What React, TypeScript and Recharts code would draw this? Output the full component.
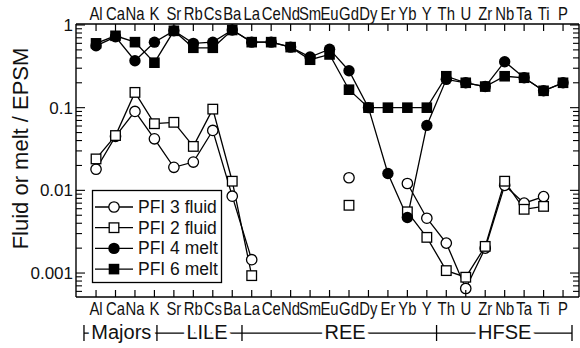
import React from "react";
import { LineChart, Line, XAxis, YAxis, ReferenceLine } from "recharts";

const FONT = "'Liberation Sans', Arial, Helvetica, sans-serif";

const categories = ["Al", "Ca", "Na", "K", "Sr", "Rb", "Cs", "Ba", "La", "Ce", "Nd", "Sm", "Eu", "Gd", "Dy", "Er", "Yb", "Y", "Th", "U", "Zr", "Nb", "Ta", "Ti", "P"];

const pfi3Fluid = [0.018, 0.045, 0.09, 0.042, 0.019, 0.022, 0.053, 0.0085, 0.00145, null, null, null, null, 0.0142, null, null, 0.0121, 0.0046, 0.0023, 0.00065, 0.002, 0.0115, 0.007, 0.0084, null];
const pfi2Fluid = [0.024, 0.046, 0.153, 0.064, 0.0665, 0.034, 0.096, 0.0129, 0.00093, null, null, null, null, 0.0066, null, null, 0.0055, 0.0027, 0.00107, 0.00089, 0.0021, 0.0129, 0.0059, 0.0064, null];
const pfi4Melt = [0.56, 0.72, 0.37, 0.62, 0.85, 0.6, 0.62, 0.87, 0.62, 0.62, 0.54, 0.41, 0.51, 0.28, 0.1, 0.016, 0.0047, 0.061, 0.22, 0.2, 0.18, 0.36, 0.23, 0.16, 0.2];
const pfi6Melt = [0.6, 0.74, 0.62, 0.35, 0.85, 0.53, 0.53, 0.87, 0.62, 0.62, 0.54, 0.38, 0.44, 0.165, 0.1, 0.1, 0.1, 0.1, 0.24, 0.2, 0.18, 0.24, 0.23, 0.16, 0.2];

const yMajorTicks = [0.001, 0.01, 0.1, 1];
const yMinorTicks = [
  0.0006, 0.0007, 0.0008, 0.0009,
  0.002, 0.003, 0.004, 0.005, 0.006, 0.007, 0.008, 0.009,
  0.02, 0.03, 0.04, 0.05, 0.06, 0.07, 0.08, 0.09,
  0.2, 0.3, 0.4, 0.5, 0.6, 0.7, 0.8, 0.9,
];

// element groups under the axis (positions in category index units)
const groupNames = ["Majors", "LILE", "REE", "HFSE"];
const groupCenters = [1.3, 5.7, 12.8, 21];
const groupEdges = [-0.62, 3.13, 7.5, 17.5, 24.46];
const BRACKET_Y = 0.000188; // below the y domain, where the bracket line sits

const seriesKeys = ["pfi3Fluid", "pfi2Fluid", "pfi4Melt", "pfi6Melt"];
const seriesNames = ["PFI 3 fluid", "PFI 2 fluid", "PFI 4 melt", "PFI 6 melt"];
const seriesMarkers = ["openCircle", "openSquare", "filledCircle", "filledSquare"];

const data = categories.map((name, i) => ({
  i,
  name,
  pfi3Fluid: pfi3Fluid[i],
  pfi2Fluid: pfi2Fluid[i],
  pfi4Melt: pfi4Melt[i],
  pfi6Melt: pfi6Melt[i],
}));

const X_DOMAIN: [number, number] = [-1.03, 24.82];
const Y_DOMAIN: [number, number] = [0.000513, 1.028];

function Marker({ kind, cx, cy }: { kind: string; cx: number; cy: number }) {
  switch (kind) {
    case "openCircle":
      return <circle cx={cx} cy={cy} r={5.2} fill="#fff" stroke="#000" strokeWidth={1.3} />;
    case "openSquare":
      return <rect x={cx - 4.8} y={cy - 4.8} width={9.6} height={9.6} fill="#fff" stroke="#000" strokeWidth={1.3} />;
    case "filledCircle":
      return <circle cx={cx} cy={cy} r={5.7} fill="#000" />;
    default:
      return <rect x={cx - 5.3} y={cy - 5.3} width={10.6} height={10.6} fill="#000" />;
  }
}

const makeDot = (kind: string) => (props: any) => {
  const { cx, cy, value, index } = props;
  if (value == null || cx == null || cy == null) return <g key={`e-${kind}-${index}`} />;
  return (
    <g key={`d-${kind}-${index}`}>
      <Marker kind={kind} cx={cx} cy={cy} />
    </g>
  );
};

function CatTick(props: any) {
  const { x, y, payload, side } = props;
  const label = categories[payload.value];
  const dir = side === "top" ? 1 : -1;
  const ty = side === "top" ? y - 4 : y + 18;
  return (
    <g>
      <line x1={x} y1={y} x2={x} y2={y + dir * 7} stroke="#000" strokeWidth={1.2} />
      <text
        transform={`translate(${x},${ty}) scale(0.85,1)`}
        textAnchor="middle"
        fontSize={17.5}
        fontFamily={FONT}
        fill="#111"
      >
        {label}
      </text>
    </g>
  );
}

function LogTick(props: any) {
  const { x, y, payload, side } = props;
  const v = payload.value;
  const major = yMajorTicks.includes(v);
  const len = major ? 9 : 6;
  const dir = side === "left" ? 1 : -1;
  return (
    <g>
      <line x1={x} y1={y} x2={x + dir * len} y2={y} stroke="#000" strokeWidth={1.1} />
      {major && side === "left" && (
        <text x={x - 3} y={y} dy="0.36em" textAnchor="end" fontSize={17} fontFamily={FONT} fill="#111">
          {String(v)}
        </text>
      )}
    </g>
  );
}

function GroupTick(props: any) {
  const { x, y, payload } = props;
  const gi = groupCenters.indexOf(payload.value);
  if (gi >= 0) {
    return (
      <text
        x={x}
        y={y + 12}
        textAnchor="middle"
        fontSize={20}
        fontFamily={FONT}
        fill="#111"
        stroke="#fff"
        strokeWidth={8}
        paintOrder="stroke"
      >
        {groupNames[gi]}
      </text>
    );
  }
  return <line x1={x} y1={y - 2} x2={x} y2={y + 14} stroke="#000" strokeWidth={1.3} />;
}

function LegendBox() {
  return (
    <svg width={580} height={348} style={{ position: "absolute", left: 0, top: 0, pointerEvents: "none" }}>
      <rect x={92.5} y={190.5} width={129} height={92} fill="#fff" stroke="#000" strokeWidth={1.3} />
      {seriesNames.map((name, k) => {
        const cy = 207 + k * 20.7;
        return (
          <g key={name}>
            <line x1={95} y1={cy} x2={133} y2={cy} stroke="#000" strokeWidth={1.3} />
            <Marker kind={seriesMarkers[k]} cx={114} cy={cy} />
            <text x={138} y={cy + 6} fontSize={17.5} fontFamily={FONT} fill="#111">
              {name}
            </text>
          </g>
        );
      })}
    </svg>
  );
}

export default function App() {
  const catTicks = categories.map((_, i) => i);
  const yTicks = [...yMinorTicks, ...yMajorTicks].sort((a, b) => a - b);
  const groupTicks = [...groupEdges, ...groupCenters];

  return (
    <div style={{ position: "absolute", left: 0, top: 0, width: 580, height: 348, background: "#fff" }}>
      <LineChart width={580} height={348} data={data} margin={{ top: 0, right: 0, bottom: 0, left: 0 }}>
        <XAxis
          dataKey="i"
          type="number"
          domain={X_DOMAIN}
          allowDataOverflow
          ticks={catTicks}
          interval={0}
          orientation="bottom"
          height={30}
          tickSize={0}
          tickMargin={0}
          tickLine={false}
          axisLine={{ stroke: "#000", strokeWidth: 1.4 }}
          tick={(p: any) => <CatTick {...p} side="bottom" />}
        />
        <XAxis
          xAxisId="grp"
          dataKey="i"
          type="number"
          domain={X_DOMAIN}
          allowDataOverflow
          ticks={groupTicks}
          interval={0}
          orientation="bottom"
          height={21}
          tickSize={0}
          tickMargin={0}
          tickLine={false}
          axisLine={false}
          tick={(p: any) => <GroupTick {...p} />}
        />
        <XAxis
          xAxisId="top"
          dataKey="i"
          type="number"
          domain={X_DOMAIN}
          allowDataOverflow
          ticks={catTicks}
          interval={0}
          orientation="top"
          height={24}
          tickSize={0}
          tickMargin={0}
          tickLine={false}
          axisLine={{ stroke: "#000", strokeWidth: 1.4 }}
          tick={(p: any) => <CatTick {...p} side="top" />}
        />
        <YAxis
          scale="log"
          domain={Y_DOMAIN}
          allowDataOverflow
          ticks={yTicks}
          interval={0}
          width={76}
          tickSize={0}
          tickMargin={0}
          tickLine={false}
          axisLine={{ stroke: "#000", strokeWidth: 1.4 }}
          tick={(p: any) => <LogTick {...p} side="left" />}
          label={{
            content: (p: any) => {
              const vb = p.viewBox || { x: 0, y: 24, width: 76, height: 273 };
              return (
                <text
                  transform={`translate(${vb.x + 28},${vb.y + vb.height / 2 - 12}) rotate(-90)`}
                  textAnchor="middle"
                  fontSize={22}
                  fontFamily={FONT}
                  fill="#111"
                >
                  Fluid or melt / EPSM
                </text>
              );
            },
          }}
        />
        <YAxis
          yAxisId="right"
          orientation="right"
          scale="log"
          domain={Y_DOMAIN}
          allowDataOverflow
          ticks={yTicks}
          interval={0}
          width={1}
          tickSize={0}
          tickMargin={0}
          tickLine={false}
          axisLine={{ stroke: "#000", strokeWidth: 1.4 }}
          tick={(p: any) => <LogTick {...p} side="right" />}
        />
        <ReferenceLine
          xAxisId="grp"
          segment={[
            { x: groupEdges[0], y: BRACKET_Y },
            { x: groupEdges[groupEdges.length - 1], y: BRACKET_Y },
          ]}
          ifOverflow="visible"
          stroke="#000"
          strokeWidth={1.3}
        />
        {seriesKeys.map((key, k) => (
          <Line
            key={key}
            dataKey={key}
            name={seriesNames[k]}
            type="linear"
            stroke="#000"
            strokeWidth={1.3}
            connectNulls={false}
            dot={makeDot(seriesMarkers[k])}
            activeDot={false}
            isAnimationActive={false}
          />
        ))}
      </LineChart>
      <LegendBox />
    </div>
  );
}
